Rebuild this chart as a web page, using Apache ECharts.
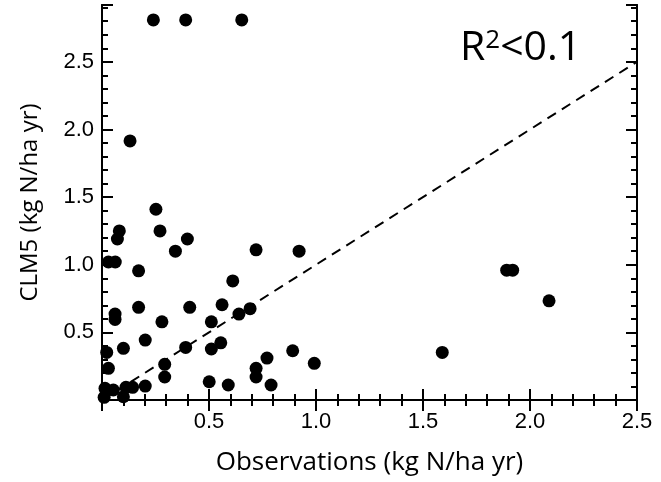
<!DOCTYPE html>
<html>
<head>
    <meta charset="utf-8" />
    <title>CLM5 vs observations</title>
    <script src="https://cdn.jsdelivr.net/npm/echarts@6/dist/echarts.min.js"></script>
    <style>
        html, body { margin: 0; padding: 0; background: #fff; }
        #main { width: 661px; height: 482px; }
    </style>
</head>
<body>
    <div id="main"></div>
    <script>
        // observations (x) and CLM5 (y), kg N/ha yr
        var obsX = [0.240, 0.391, 0.653, 0.131, 0.252,
            0.081, 0.072, 0.271, 0.399, 0.343, 0.720, 0.921,
            0.030, 0.062, 0.171, 0.611,
            0.061, 0.061, 0.171, 0.410, 0.561, 0.640, 0.692,
            0.280, 0.511, 0.202, 0.100, 0.022, 0.391, 0.511, 0.555, 0.891, 0.771, 0.992,
            0.030, 0.293, 0.293, 0.720, 0.720, 0.501, 0.590, 0.790, 0.202, 0.112, 0.143,
            0.014, 0.053, 0.100, 0.010,
            1.891, 1.919, 2.089, 1.590];
        var clmY = [2.81, 2.81, 2.81, 1.915, 1.41,
            1.25, 1.19, 1.25, 1.19, 1.10, 1.11, 1.10,
            1.02, 1.02, 0.955, 0.88,
            0.635, 0.596, 0.685, 0.685, 0.704, 0.635, 0.675,
            0.578, 0.578, 0.443, 0.382, 0.352, 0.389, 0.377, 0.423, 0.364, 0.310, 0.271,
            0.234, 0.264, 0.170, 0.234, 0.170, 0.135, 0.111, 0.111, 0.103, 0.094, 0.094,
            0.086, 0.074, 0.024, 0.020,
            0.960, 0.960, 0.733, 0.352];
        var oneToOne = [[0, 0], [2.5, 2.5]];
        var xMax = 2.5, yMax = 2.92;

        var points = obsX.map(function (x, i) { return [x, clmY[i]]; });

        function halfLabel(v) {
            if (v <= 0 || v > 2.5001) return '';
            if (Math.abs(v * 2 - Math.round(v * 2)) > 1e-6) return '';
            return v.toFixed(1);
        }

        var black = '#000';
        var axisLine = { show: true, lineStyle: { color: black, width: 2 } };
        var labelFont = { fontFamily: 'Liberation Sans', fontSize: 22, color: black };

        function xAx(pos, withLabels) {
            return {
                type: 'value', position: pos, min: 0, max: xMax, interval: 0.5,
                axisLine: axisLine,
                axisTick: { inside: true, length: 11, lineStyle: { color: black, width: 2 } },
                minorTick: { show: true, splitNumber: 5, length: 6, lineStyle: { color: black, width: 2 } },
                splitLine: { show: false },
                axisLabel: Object.assign({ show: withLabels, margin: 11, formatter: halfLabel }, labelFont),
                name: withLabels ? 'Observations (kg N/ha yr)' : '',
                nameLocation: 'middle', nameGap: 50,
                nameTextStyle: { fontFamily: 'Open Sans', fontSize: 26, color: black }
            };
        }

        function yAx(pos, step, tickLen, withLabels) {
            return {
                type: 'value', position: pos, min: 0, max: yMax, interval: step,
                axisLine: axisLine,
                axisTick: { inside: true, length: tickLen, lineStyle: { color: black, width: 2 } },
                splitLine: { show: false },
                axisLabel: Object.assign({ show: withLabels, margin: 8, formatter: halfLabel }, labelFont),
                name: withLabels ? 'CLM5 (kg N/ha yr)' : '',
                nameLocation: 'middle', nameGap: 60,
                nameTextStyle: { fontFamily: 'Open Sans', fontSize: 24, color: black }
            };
        }

        var chart = echarts.init(document.getElementById('main'));
        chart.setOption({
            animation: false,
            backgroundColor: '#fff',
            grid: { left: 102, right: 24, top: 5, bottom: 82 },
            title: {
                text: '{a|R}{b|2}{a|<0.1}',
                left: 455, top: 23,
                textStyle: {
                    rich: {
                        a: { fontFamily: 'Open Sans', fontSize: 41, fontWeight: 'normal', color: black },
                        b: { fontFamily: 'Open Sans', fontSize: 26, fontWeight: 'normal', color: black, verticalAlign: 'top' }
                    }
                }
            },
            xAxis: [xAx('bottom', true), xAx('top', false)],
            yAxis: [
                yAx('left', 0.5, 11, true),
                yAx('left', 0.1, 6, false),
                yAx('right', 0.5, 11, false),
                yAx('right', 0.1, 6, false)
            ],
            series: [{
                type: 'line',
                data: oneToOne,
                symbol: 'none',
                silent: true,
                lineStyle: { color: black, width: 2, type: [10, 7] },
                z: 1
            }, {
                type: 'scatter',
                data: points,
                symbol: 'circle',
                symbolSize: 13,
                itemStyle: { color: black, opacity: 1 },
                z: 2
            }]
        });
    </script>
</body>
</html>
